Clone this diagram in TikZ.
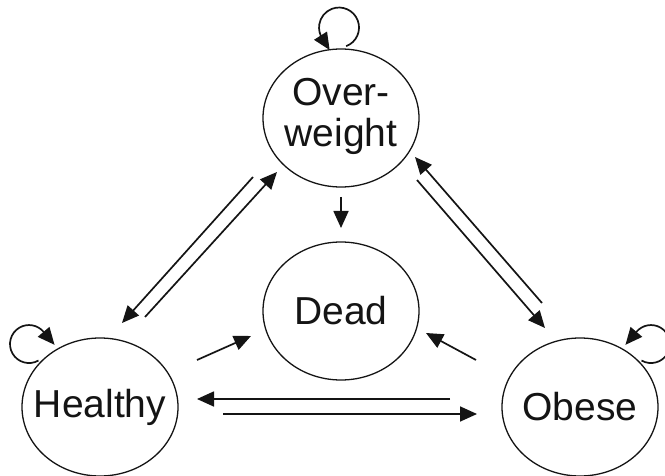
\documentclass[tikz,border=0pt]{standalone}
\usepackage{fontspec}
\setmainfont{Liberation Sans}
\usetikzlibrary{shapes.geometric,arrows.meta}
\definecolor{ink}{gray}{0.08}
\begin{document}
\begin{tikzpicture}[x=1pt,y=1pt,
  state/.style={ellipse,draw=ink,line width=1.3pt,minimum width=156pt,
    minimum height=138pt,inner sep=0pt,text=ink,
    font=\fontsize{39}{41}\selectfont},
  trans/.style={draw=ink,line width=1.7pt,
    -{Triangle[length=17pt,width=15pt]}},
]
\useasboundingbox (0,0) rectangle (665,475);

% states
\node[state] (ow) at (341,357)
  {\makebox[0pt]{\begin{tabular}{@{}c@{}}Over-\\weight\end{tabular}}};
\node[state] (dead) at (341,164) {\makebox[0pt]{Dead}};
\node[state] (h) at (100,68) {\makebox[0pt]{Healthy}};
\node[state] (ob) at (580,68) {\makebox[0pt]{Obese}};

% transitions between states
\draw[trans] ([shift={(45,90)}]h.center) -- ([shift={(-64,-54)}]ow.center);
\draw[trans] ([shift={(-88,-59)}]ow.center) -- ([shift={(22,84)}]h.center);
\draw[trans] ([shift={(76,-62)}]ow.center) -- ([shift={(-35,79)}]ob.center);
\draw[trans] ([shift={(-38,104)}]ob.center) -- ([shift={(74,-39)}]ow.center);
\draw[trans] ([shift={(-130,8)}]ob.center) -- ([shift={(97,8)}]h.center);
\draw[trans] ([shift={(123,-7)}]h.center) -- ([shift={(-103,-7)}]ob.center);
\draw[trans] ([shift={(97,47)}]h.center) -- ([shift={(-90,-25)}]dead.center);
\draw[trans] ([shift={(-104,47)}]ob.center) -- ([shift={(85,-22)}]dead.center);
\draw[trans] ([shift={(0,-79)}]ow.center) -- ([shift={(0,83)}]dead.center);

% self-loops
\draw[trans] ([shift={(5.2,71.8)}]ow.center)
  arc[start angle=-69,end angle=215,radius=20] -- ++(7,-11);
\draw[trans] ([shift={(-61.5,46.5)}]h.center)
  arc[start angle=-60,end angle=-320,radius=19] -- ++(11,-13);
\draw[trans] ([shift={(61.5,46.5)}]ob.center)
  arc[start angle=-120,end angle=140,radius=19] -- ++(-11,-13);
\end{tikzpicture}
\end{document}
